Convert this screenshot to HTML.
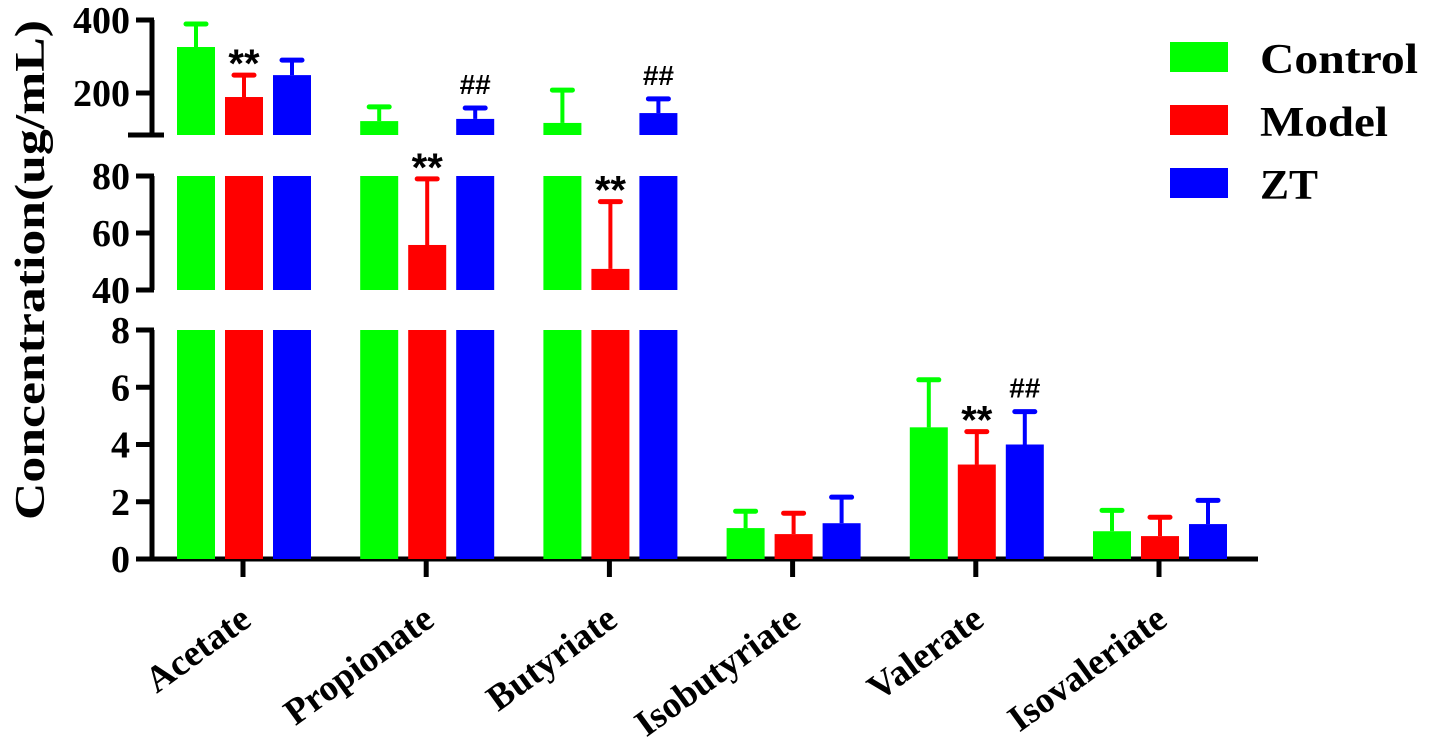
<!DOCTYPE html>
<html><head><meta charset="utf-8"><style>
html,body{margin:0;padding:0;background:#fff;}
svg{display:block;font-family:"Liberation Serif",serif;font-weight:bold;}
</style></head><body>
<svg id="chart" width="1429" height="742" viewBox="0 0 1429 742" xmlns="http://www.w3.org/2000/svg">
<g id="axes"></g><g id="bars"></g><g id="labels"></g>
<text transform="translate(44,270) rotate(-90)" text-anchor="middle" font-size="42" textLength="500" lengthAdjust="spacingAndGlyphs">Concentration(ug/mL)</text>
<g>
<rect x="1170" y="42" width="58" height="30" fill="#00ff00"/>
<text x="1260" y="73" font-size="42" textLength="158" lengthAdjust="spacingAndGlyphs">Control</text>
<rect x="1170" y="105" width="58" height="30" fill="#ff0000"/>
<text x="1260" y="136" font-size="42" textLength="128" lengthAdjust="spacingAndGlyphs">Model</text>
<rect x="1170" y="168" width="58" height="30" fill="#0000ff"/>
<text x="1260" y="199" font-size="42" textLength="58" lengthAdjust="spacingAndGlyphs">ZT</text>
</g>
</svg>
<script>
const categories=["Acetate","Propionate","Butyriate","Isobutyriate","Valerate","Isovaleriate"];
const seriesNames=["Control","Model","ZT"];
const colors=["#00ff00","#ff0000","#0000ff"];
const controlMean=[326,123,118,1.08,4.6,0.97];
const controlErr=[389,162,208,1.67,6.26,1.7];
const modelMean=[189,55.8,47.4,0.87,3.3,0.8];
const modelErr=[249,79,71,1.6,4.45,1.46];
const ztMean=[249,129,145,1.25,4.0,1.22];
const ztErr=[290,159,184,2.16,5.15,2.05];
const annot=[[null,"**",null],[null,"**","##"],[null,"**","##"],[null,null,null],[null,"**","##"],[null,null,null]];
const segTicks=[[200,400],[40,60,80],[0,2,4,6,8]];
const NS="http://www.w3.org/2000/svg";
const segs=[{lo:85,hi:400,yb:135,yt:20,slope:0.365,ref:200,refY:93},
            {lo:40,hi:80,yb:290,yt:176},{lo:0,hi:8,yb:559,yt:330}];
function yOf(s,v){
  if(s.slope) return s.refY-(v-s.ref)*s.slope;
  return s.yb-(v-s.lo)/(s.hi-s.lo)*(s.yb-s.yt);
}
function mk(tag,attrs,parent){const e=document.createElementNS(NS,tag);for(const k in attrs)e.setAttribute(k,attrs[k]);parent.appendChild(e);return e;}
const axes=document.getElementById('axes'),bars=document.getElementById('bars'),labels=document.getElementById('labels');
const axX=152;
function xCenter(i){return 243+i*183.2;}
segs.forEach((s,si)=>{
  const l=mk('line',{x1:axX,x2:axX,y1:s.yt,y2:s.yb,stroke:'#000','stroke-width':5},axes);
  
  
  segTicks[si].forEach(t=>{
    const y=yOf(s,t);
    const tk=mk('line',{x1:136,x2:axX+2,y1:y,y2:y,stroke:'#000','stroke-width':5},axes);
    
    
    const tx=mk('text',{x:130,y:y+13,'text-anchor':'end','font-size':38},axes);
    tx.textContent=t;
    
    
  });
});
const bt=mk('line',{x1:128,x2:164,y1:135,y2:135,stroke:'#000','stroke-width':5},axes);


const xa=mk('line',{x1:136,x2:1258,y1:559,y2:559,stroke:'#000','stroke-width':5},axes);


categories.forEach((c,i)=>{
  const cx=xCenter(i);
  const tk=mk('line',{x1:cx,x2:cx,y1:559,y2:577,stroke:'#000','stroke-width':5},axes);
  
  
  const t=mk('text',{x:cx+10,y:624,'text-anchor':'end','font-size':37,transform:`rotate(-36 ${cx+10} 624)`},labels);
  t.textContent=c;
  
  
});
const means=[controlMean,modelMean,ztMean],errs=[controlErr,modelErr,ztErr];
categories.forEach((c,i)=>{
  for(let k=0;k<3;k++){
    const x=xCenter(i)-66+k*48, w=38, v=means[k][i], e=errs[k][i], col=colors[k];
    segs.forEach(s=>{
      if(v>s.lo){
        const top=yOf(s,Math.min(v,s.hi));
        const r=mk('rect',{x:x,y:top,width:w,height:s.yb-top,fill:col},bars);
        
        
      }
      const a=Math.max(v,s.lo), b=Math.min(e,s.hi);
      if(b>a){
        const y1=yOf(s,a), y2=yOf(s,b), cx=x+w/2;
        const ln=mk('line',{x1:cx,x2:cx,y1:y1,y2:y2,stroke:col,'stroke-width':4},bars);
        
        
        if(e<=s.hi){
          const cp=mk('line',{x1:cx-10,x2:cx+10,y1:y2,y2:y2,stroke:col,'stroke-width':5,'stroke-linecap':'round'},bars);
          
          
        }
      }
    });
    const an=annot[i][k];
    if(an){
      let s=segs.find(s=>e>s.lo&&e<=s.hi);
      const ye=yOf(s,e);
      const t=mk('text',{x:x+w/2,y:an==="**"?ye+2:ye-14,'text-anchor':'middle','font-size':an==="**"?40:28,'font-family':'Liberation Sans, sans-serif'},labels);
      t.textContent=an;
      
      
    }
  }
});
</script>
</body></html>
